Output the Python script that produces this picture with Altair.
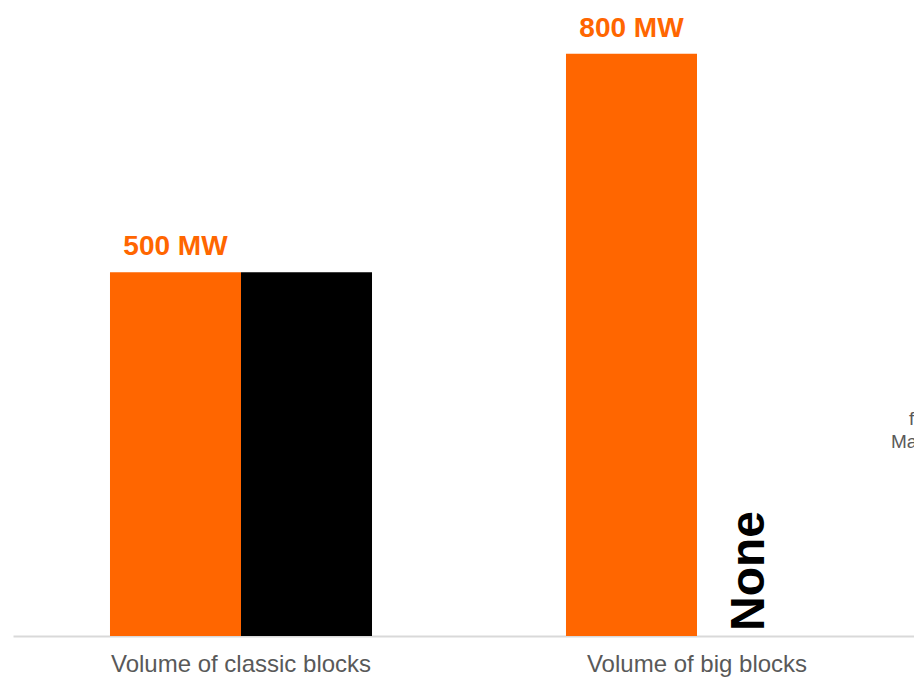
import altair as alt
import pandas as pd

categories = ["Volume of classic blocks", "Volume of big blocks"]
series_names = ["Series 1", "Series 2"]
series1_values = [500, 800]
series2_values = [500, None]
series1_labels = ["500 MW", "800 MW"]
series2_labels = ["", "None"]
side_note = "for\nMarket"

rows = []
for i, c in enumerate(categories):
    rows.append({"category": c, "series": series_names[0], "value": series1_values[i],
                 "label": series1_labels[i], "base": 0})
    rows.append({"category": c, "series": series_names[1], "value": series2_values[i],
                 "label": series2_labels[i], "base": 0})
df = pd.DataFrame(rows)

ORANGE = "#FF6600"
FONT = "Liberation Sans"

x_enc = alt.X("category:N", sort=categories,
              scale=alt.Scale(range=[5, 917], paddingInner=0.4254, paddingOuter=0.2127),
              axis=alt.Axis(title=None, ticks=False, labelAngle=0, labelFontSize=24,
                            labelColor="#595959", labelFont=FONT, labelPadding=16,
                            labelLimit=0, domainColor="#d9d9d9", domainWidth=2,
                            grid=False))
xoff = alt.XOffset("series:N", sort=series_names,
                   scale=alt.Scale(paddingInner=0, paddingOuter=0))
y_scale = alt.Scale(domain=[0, 863], nice=False, zero=True)

base = alt.Chart(df)

bars = base.mark_bar(clip=True).encode(
    x=x_enc,
    xOffset=xoff,
    y=alt.Y("value:Q", scale=y_scale, axis=None),
    color=alt.Color("series:N", sort=series_names,
                    scale=alt.Scale(domain=series_names, range=[ORANGE, "#000000"]),
                    legend=None),
)

top_labels = base.transform_filter(
    alt.datum.series == series_names[0]
).mark_text(font=FONT, fontSize=28, fontWeight="bold", color=ORANGE,
            baseline="alphabetic", dy=-17).encode(
    x=alt.X("category:N", sort=categories),
    xOffset=xoff,
    y=alt.Y("value:Q", scale=y_scale),
    text="label:N",
)

none_labels = base.transform_filter(
    (alt.datum.series == series_names[1]) & (alt.datum.label != "")
).mark_text(font=FONT, fontSize=48, fontWeight="bold", color="#000000",
            angle=270, align="left", baseline="alphabetic", dx=5, dy=1).encode(
    x=alt.X("category:N", sort=categories),
    xOffset=xoff,
    y=alt.Y("base:Q", scale=y_scale),
    text="label:N",
)

note = alt.Chart(pd.DataFrame({"t": [side_note]})).mark_text(
    font=FONT, fontSize=19, color="#595959", align="center", baseline="top",
    lineBreak="\n", lineHeight=23, clip=True
).encode(x=alt.value(912), y=alt.value(402), text="t:N")

chart = alt.layer(bars, top_labels, none_labels, note).properties(
    width=906, height=628,
    autosize=alt.AutoSizeParams(type="none"),
    padding={"left": 0, "top": 0, "right": 0, "bottom": 41},
    background="white",
).configure_view(stroke=None)

chart.save("out.html", embed_options={"renderer": "svg", "actions": False})
